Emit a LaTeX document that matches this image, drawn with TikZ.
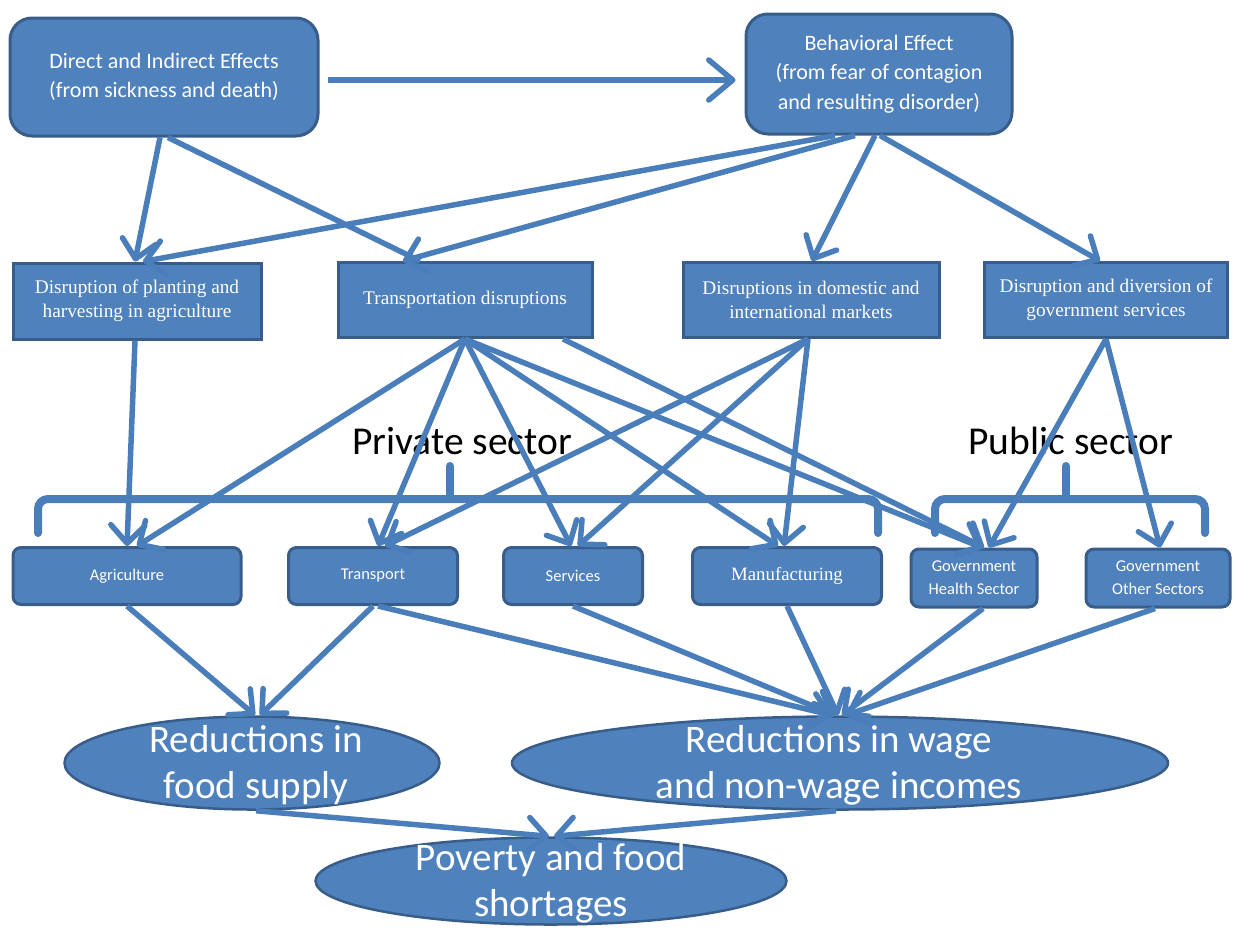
\documentclass[tikz,border=0pt]{standalone}
\usepackage{fontspec}
\setmainfont{Carlito}
\newfontfamily\serifcam{Liberation Serif}
\usetikzlibrary{arrows.meta,shapes.geometric}
\definecolor{bfill}{HTML}{4F81BD}
\definecolor{bdraw}{HTML}{385D8A}
\definecolor{bline}{HTML}{4A7EBB}
\begin{document}
\begin{tikzpicture}[x=1pt,y=-1pt,
  box/.style={draw=bdraw, fill=bfill, line width=3pt, text=white, align=center, inner sep=0pt},
  toprr/.style={box, rounded corners=22pt, font=\fontsize{22}{29.5}\selectfont},
  disr/.style={box, font=\serifcam\fontsize{19.3}{24}\selectfont},
  sect/.style={box, rounded corners=8pt, font=\fontsize{16.5}{23}\selectfont},
  sectserif/.style={sect, font=\serifcam\fontsize{18.8}{23}\selectfont},
  oval/.style={box, ellipse, line width=2.5pt},
  ovaltext/.style={text=white, align=center, inner sep=0pt, font=\fontsize{39}{46}\selectfont},
  conn/.style={draw=bline, line width=5.5pt},
  arr/.style={conn, -{Straight Barb[length=18pt,width=34pt,round]}},
  bigarr/.style={conn, -{Straight Barb[length=24pt,width=40pt,round]}},
  brace/.style={draw=bline, line width=8pt, line cap=round, rounded corners=10pt},
  lbl/.style={font=\fontsize{39.5}{44}\selectfont, text=black, inner sep=0pt}
]
\useasboundingbox (0,0) rectangle (1233,927);

% sector labels and braces
\node[lbl] (privlbl) at (462,441) {Private sector};
\node[lbl] (publbl) at (1071,441) {Public sector};
\draw[brace] (38,533) -- (38,499) -- (878,499) -- (878,533);
\draw[brace] (450,499) -- (450,466);
\draw[brace] (935,533) -- (935,499) -- (1205,499) -- (1205,533);
\draw[brace] (1066,499) -- (1066,466);

% top level
\node[toprr, minimum width=308, minimum height=118] (DI) at (164,77)
  {Direct and Indirect Effects\\(from sickness and death)};
\node[toprr, minimum width=266, minimum height=120] (BE) at (879,74)
  {Behavioral Effect\\(from fear of contagion\\and resulting disorder)};

% disruptions
\node[disr, minimum width=248, minimum height=76] (D1) at (137,301)
  {Disruption of planting and\\harvesting in agriculture};
\node[disr, minimum width=254, minimum height=75] (D2) at (465,300)
  {Transportation disruptions};
\node[disr, minimum width=256, minimum height=75] (D3) at (811,300)
  {Disruptions in domestic and\\international markets};
\node[disr, minimum width=243, minimum height=75] (D4) at (1106,300)
  {Disruption and diversion of\\government services};

% sectors
\node[sect, minimum width=228, minimum height=57] (S1) at (127,576) {Agriculture};
\node[sect, minimum width=169, minimum height=57] (S2) at (373,576) {Transport};
\node[sect, minimum width=139, minimum height=57] (S3) at (573,576) {Services};
\node[sectserif, minimum width=189, minimum height=57] (S4) at (787,576) {Manufacturing};
\node[sect, minimum width=126, minimum height=58] (S5) at (974,578) {Government\\Health Sector};
\node[sect, minimum width=144, minimum height=58] (S6) at (1158,578) {Government\\Other Sectors};

% outcomes (shapes)
\node[oval, minimum width=375, minimum height=93] (E1) at (252,763) {};
\node[oval, minimum width=656, minimum height=93] (E2) at (840,763) {};
\node[oval, minimum width=471, minimum height=87] (E3) at (551,881) {};

% connectors, top
\draw[bigarr] ([xshift=8pt,yshift=-3pt]DI.east) -- ([xshift=-9pt,yshift=-6pt]BE.west);
\draw[arr] ([xshift=-4pt]DI.south) -- ([xshift=-2pt]D1.north);
\draw[conn] ([xshift=4pt]DI.south) -- ([xshift=-45pt]D2.north);
\draw[arr] ([xshift=-44pt]BE.south) -- ([xshift=6pt]D1.north);
\draw[arr] ([xshift=-24pt]BE.south) -- ([xshift=-62pt]D2.north);
\draw[arr] ([xshift=-4pt]BE.south) -- ([xshift=1pt]D3.north);
\draw[arr] ([xshift=1pt]BE.south) -- ([xshift=-6pt]D4.north);

% connectors, middle
\draw[arr] ([xshift=-2pt]D1.south) -- (S1.north);
\draw[arr] (D2.south) -- ([xshift=10pt]S1.north);
\draw[arr] (D2.south) -- ([xshift=5pt]S2.north);
\draw[arr] (D2.south) -- ([xshift=-2pt]S3.north);
\draw[arr] (D2.south) -- ([xshift=-9pt]S4.north);
\draw[arr] (D2.south) -- ([xshift=8pt]S5.north);
\draw[arr] ([xshift=98pt]D2.south) -- ([xshift=10pt]S5.north);
\draw[arr] ([xshift=-3pt]D3.south) -- ([xshift=12pt]S2.north);
\draw[arr] ([xshift=-3pt]D3.south) -- ([xshift=5pt]S3.north);
\draw[arr] ([xshift=-3pt]D3.south) -- ([xshift=-3pt]S4.north);
\draw[arr] (D4.south) -- ([xshift=15pt]S5.north);
\draw[arr] (D4.south) -- ([xshift=2pt]S6.north);

% connectors, bottom
\draw[arr] (S1.south) -- ([xshift=3pt]E1.north);
\draw[arr] (S2.south) -- ([xshift=8pt]E1.north);
\draw[arr] ([xshift=5pt]S2.south) -- ([xshift=-8pt]E2.north);
\draw[arr] (S3.south) -- ([xshift=-5pt]E2.north);
\draw[arr] (S4.south) -- ([xshift=-2pt]E2.north);
\draw[arr] ([xshift=9pt]S5.south) -- ([xshift=2pt]E2.north);
\draw[arr] ([xshift=-3pt]S6.south) -- ([xshift=6pt]E2.north);
\draw[arr] ([xshift=4pt]E1.south) -- ([xshift=-2pt]E3.north);
\draw[arr] ([xshift=-4pt]E2.south) -- ([xshift=3pt]E3.north);

% outcome texts on top
\node[ovaltext] (E1t) at (256,765) {Reductions in\\food supply};
\node[ovaltext] (E2t) at (839,765) {Reductions in wage\\and non-wage incomes};
\node[ovaltext] (E3t) at (551,883) {Poverty and food\\shortages};
\end{tikzpicture}
\end{document}
